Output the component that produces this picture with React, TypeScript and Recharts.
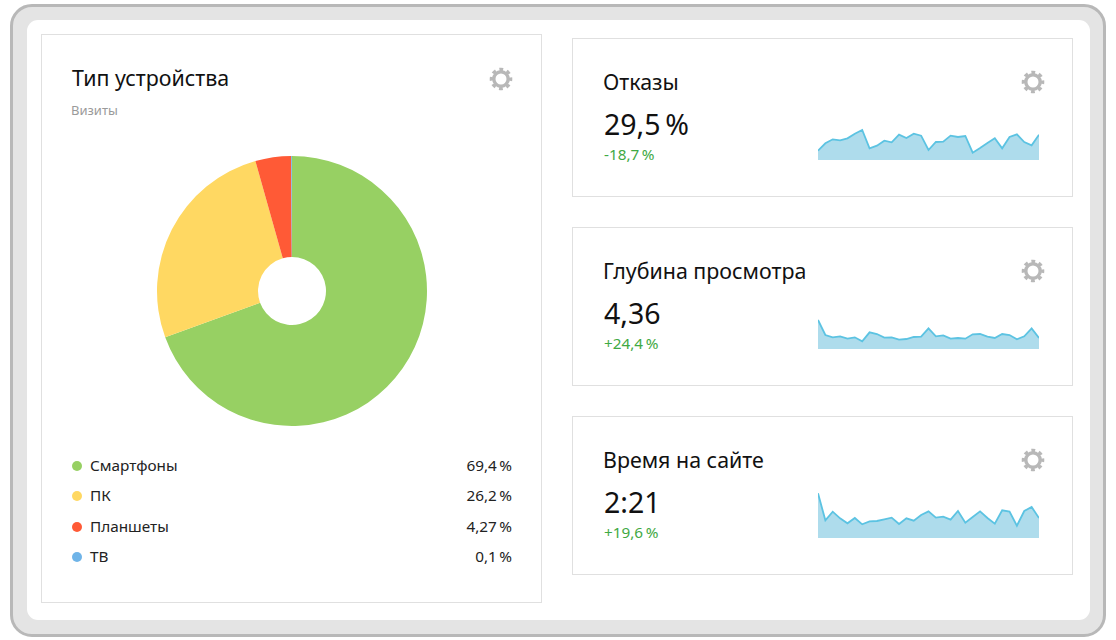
import { PieChart, Pie, Cell, AreaChart, Area, XAxis, YAxis } from 'recharts'

const deviceNames = ['Смартфоны', 'ПК', 'Планшеты', 'ТВ']
const deviceValues = [69.4, 26.2, 4.27, 0.1]
const deviceLabels = ['69,4\u202f%', '26,2\u202f%', '4,27\u202f%', '0,1\u202f%']
const deviceColors = ['#97d063', '#ffd862', '#ff5a36', '#6fb4e8']

const bounceValues = [28, 50, 62, 59, 65, 79, 90, 35, 43, 58, 53, 76, 66, 79, 73, 30, 54, 55, 73, 69, 72, 22, 36, 51, 65, 35, 69, 77, 54, 44, 76]
const depthValues = [87, 42, 35, 38, 31, 35, 23, 50, 45, 34, 35, 28, 30, 36, 37, 62, 38, 41, 31, 33, 31, 44, 45, 37, 33, 45, 42, 29, 38, 62, 33]
const timeValues = [134, 53, 79, 59, 44, 60, 41, 50, 51, 56, 61, 42, 59, 52, 69, 80, 61, 64, 55, 81, 46, 63, 80, 60, 43, 83, 79, 37, 81, 93, 60]

const metricTitles = ['Отказы', 'Глубина просмотра', 'Время на сайте']
const metricValues = ['29,5\u202f%', '4,36', '2:21']
const metricDeltas = ['-18,7\u202f%', '+24,4\u202f%', '+19,6\u202f%']
const metricSeries = [bounceValues, depthValues, timeValues]
const metricTops = [38, 227, 416]

const font = '"Noto Sans", sans-serif'

function Gear({ x, y }: { x: number; y: number }) {
  return (
    <svg width={26} height={26} style={{ position: 'absolute', left: x - 13, top: y - 13 }}>
      <circle cx={13} cy={13} r={9.6} fill="none" stroke="#b8b8b8" strokeWidth={3.4} strokeDasharray="3.77 3.77" strokeDashoffset={1.9} />
      <circle cx={13} cy={13} r={7.2} fill="none" stroke="#b8b8b8" strokeWidth={3.4} />
    </svg>
  )
}

function Text({ x, y, size, color = '#111', right, children }: any) {
  const pos = right !== undefined ? { right: 1116 - right } : { left: x }
  return (
    <div style={{ position: 'absolute', ...pos, top: y - 20, height: 40, lineHeight: '40px', fontSize: size, color, whiteSpace: 'nowrap' }}>
      {children}
    </div>
  )
}

function Card({ left, top, width, height }: any) {
  return (
    <div style={{ position: 'absolute', left, top, width, height, boxSizing: 'border-box', border: '1px solid #e0e0e0', background: '#fff' }} />
  )
}

function Spark({ values, top }: { values: number[]; top: number }) {
  const rows = values.map((v, i) => ({ i, v }))
  return (
    <div style={{ position: 'absolute', left: 818, top }}>
      <AreaChart width={221} height={50} data={rows} margin={{ top: 0, right: 0, bottom: 0, left: 0 }}>
        <XAxis dataKey="i" hide />
        <YAxis hide domain={[0, 150]} />
        <Area type="linear" dataKey="v" stroke="#5cc3e2" strokeWidth={1.8} fill="#aedcec" fillOpacity={1} isAnimationActive={false} dot={false} />
      </AreaChart>
    </div>
  )
}

export default function App() {
  const slices = deviceNames.map((name, i) => ({ name, value: deviceValues[i] }))
  return (
    <div style={{ position: 'absolute', left: 0, top: 0, width: 1116, height: 640, background: '#fff', overflow: 'hidden', fontFamily: font }}>
      <div style={{ position: 'absolute', left: 10, top: 4, width: 1096, height: 633, boxSizing: 'border-box', border: '3px solid #b8b8b8', borderRadius: 22, background: '#e4e4e4' }} />
      <div style={{ position: 'absolute', left: 27, top: 20, width: 1063, height: 600, borderRadius: 11, background: '#fff' }} />

      <Card left={41} top={34} width={501} height={569} />
      <Text x={72} y={78} size={21.4}>Тип устройства</Text>
      <Text x={71} y={110} size={13} color="#9a9a9a">Визиты</Text>
      <Gear x={501} y={79} />

      <div style={{ position: 'absolute', left: 142, top: 141 }}>
        <PieChart width={300} height={300} margin={{ top: 0, right: 0, bottom: 0, left: 0 }}>
          <Pie
            data={slices}
            dataKey="value"
            cx={150}
            cy={150}
            outerRadius={135}
            innerRadius={34}
            startAngle={90}
            endAngle={-270}
            stroke="none"
            isAnimationActive={false}
          >
            {slices.map((s, i) => (
              <Cell key={s.name} fill={deviceColors[i]} />
            ))}
          </Pie>
        </PieChart>
      </div>

      {deviceNames.map((name, i) => {
        const y = [465, 495, 526, 556][i]
        return (
          <div key={name}>
            <div style={{ position: 'absolute', left: 72, top: y - 4, width: 10, height: 10, borderRadius: 5, background: deviceColors[i] }} />
            <Text x={90} y={y} size={15.3} color="#222">{name}</Text>
            <Text right={512} y={y} size={15.3} color="#222">{deviceLabels[i]}</Text>
          </div>
        )
      })}

      {metricTitles.map((title, i) => {
        const top = metricTops[i]
        return (
          <div key={title}>
            <Card left={572} top={top} width={501} height={159} />
            <Text x={603} y={top + 44} size={21.4}>{title}</Text>
            <Text x={604} y={top + 86} size={28.5}>{metricValues[i]}</Text>
            <Text x={604} y={top + 116} size={15.3} color="#3fa944">{metricDeltas[i]}</Text>
            <Gear x={1033} y={top + 44} />
            <Spark values={metricSeries[i]} top={top + 72} />
          </div>
        )
      })}
    </div>
  )
}
